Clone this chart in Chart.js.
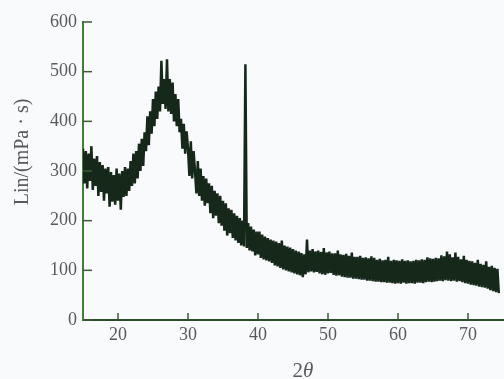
<!DOCTYPE html>
<html>
<head>
<meta charset="utf-8">
<script src="https://cdn.jsdelivr.net/npm/chart.js@4.4.1/dist/chart.umd.min.js"></script>
<style>
  html, body { margin: 0; padding: 0; background: #f8fafb; }
  #wrap { width: 504px; height: 379px; }
</style>
</head>
<body>
<div id="wrap"><canvas id="xrd"></canvas></div>
<script>
// scan starts at 15 deg, one reading every 0.2 deg
const startAngle = 15;
const stepAngle = 0.2;
const intensity = [
  345, 275, 340, 265, 335,  280, 350, 262, 325, 270,  330, 250, 318, 258, 312,
  240, 305, 255, 308, 228,  298, 238, 292, 232, 305,  240, 295, 222, 300, 248,
  308, 250, 305, 260, 320,  270, 335, 275, 340, 285,  355, 300, 365, 310, 378,
  340, 410, 352, 420, 375,  445, 390, 460, 405, 470,  420, 522, 435, 485, 425,
  525, 420, 485, 415, 478,  400, 455, 390, 445, 378,  405, 345, 395, 335, 380,
  345, 290, 360, 285, 340,  300, 255, 320, 250, 305,  240, 290, 230, 285, 235,
  275, 215, 270, 205, 260,  210, 255, 195, 250, 190,  240, 180, 235, 170, 225,
  175, 222, 165, 215, 160,  210, 155, 205, 150, 200,  148, 515, 145, 195, 140,
  188, 138, 182, 130, 178,  132, 178, 125, 172, 122,  168, 120, 165, 118, 162,
  115, 160, 110, 158, 108,  155, 105, 160, 102, 150,  100, 148, 98, 146, 96,
  143, 94, 140, 92, 138,    90, 135, 86, 132, 92,     162, 96, 140, 98, 143,
  96, 138, 97, 140, 94,     137, 92, 145, 91, 136,    94, 138, 95, 134, 91,
  134, 89, 140, 90, 132,    87, 131, 86, 133, 85,     129, 85, 136, 83, 127,
  83, 127, 82, 129, 81,     125, 81, 126, 79, 124,    79, 128, 78, 125, 77,
  121, 77, 123, 76, 120,    76, 121, 75, 127, 75,     119, 74, 121, 73, 120,
  74, 119, 73, 122, 75,     119, 73, 120, 74, 118,    74, 119, 73, 121, 75,
  120, 75, 122, 74, 121,    76, 126, 77, 124, 76,     123, 77, 125, 78, 124,
  79, 130, 78, 128, 80,     138, 79, 132, 78, 126,    79, 136, 77, 127, 78,
  122, 76, 129, 74, 121,    73, 119, 71, 118, 70,     115, 69, 121, 67, 113,
  66, 111, 65, 118, 63,     107, 60, 109, 58, 105,    56, 103, 54
];
const xTicks = [20, 30, 40, 50, 60, 70];
const yTicks = [0, 100, 200, 300, 400, 500, 600];

const points = intensity.map((v, i) => ({ x: startAngle + i * stepAngle, y: v }));

const serif = '"Liberation Serif", "DejaVu Serif", serif';

// short inward tick marks, the y title and the "2θ" title with italic theta
const axisDeco = {
  id: 'axisDeco',
  afterDraw(chart) {
    const c = chart.ctx;
    const xs = chart.scales.x, ys = chart.scales.y;
    const a = chart.chartArea;
    c.save();
    c.strokeStyle = '#3d5a32';
    c.lineWidth = 1.5;
    yTicks.forEach(t => {
      const py = ys.getPixelForValue(t);
      c.beginPath(); c.moveTo(a.left, py); c.lineTo(a.left + 9, py); c.stroke();
    });
    xTicks.forEach(t => {
      const px = xs.getPixelForValue(t);
      c.beginPath(); c.moveTo(px, a.bottom); c.lineTo(px, a.bottom - 7); c.stroke();
    });
    c.fillStyle = '#5a5a5a';
    c.textBaseline = 'alphabetic';
    c.font = '21px ' + serif;
    const w2 = c.measureText('2').width;
    c.font = 'italic 21px ' + serif;
    const wt = c.measureText('θ').width;
    let x0 = 303 - (w2 + wt) / 2;
    c.font = '21px ' + serif;
    c.fillText('2', x0, 377);
    c.font = 'italic 21px ' + serif;
    c.fillText('θ', x0 + w2, 377);

    c.translate(23, 152);
    c.rotate(-Math.PI / 2);
    c.textAlign = 'center';
    c.textBaseline = 'middle';
    c.font = '20px ' + serif;
    c.fillText('Lin/(mPa · s)', 0, 0);
    c.restore();
  }
};

new Chart(document.getElementById('xrd').getContext('2d'), {
  type: 'line',
  data: {
    datasets: [{
      data: points,
      borderColor: '#16281a',
      borderWidth: 2.5,
      pointRadius: 0,
      tension: 0,
      fill: false
    }]
  },
  options: {
    responsive: true,
    maintainAspectRatio: false,
    animation: false,
    layout: { padding: { top: 22, right: 1, left: 0, bottom: 0 } },
    plugins: { legend: { display: false }, tooltip: { enabled: false } },
    scales: {
      x: {
        type: 'linear',
        min: 15,
        max: 75,
        afterFit: s => { s.height = 59; },
        afterBuildTicks: s => { s.ticks = xTicks.map(v => ({ value: v })); },
        grid: { display: false, drawTicks: false },
        border: { display: true, color: '#2e4a2c', width: 2 },
        ticks: { color: '#5a5a5a', font: { family: serif, size: 18 }, padding: 4 }
      },
      y: {
        min: 0,
        max: 600,
        afterFit: s => { s.width = 83; },
        afterBuildTicks: s => { s.ticks = yTicks.map(v => ({ value: v })); },
        grid: { display: false, drawTicks: false },
        border: { display: true, color: '#3f7f3a', width: 2 },
        ticks: { color: '#5a5a5a', font: { family: serif, size: 18 }, padding: 6 }
      }
    }
  },
  plugins: [axisDeco]
});
</script>
</body>
</html>
